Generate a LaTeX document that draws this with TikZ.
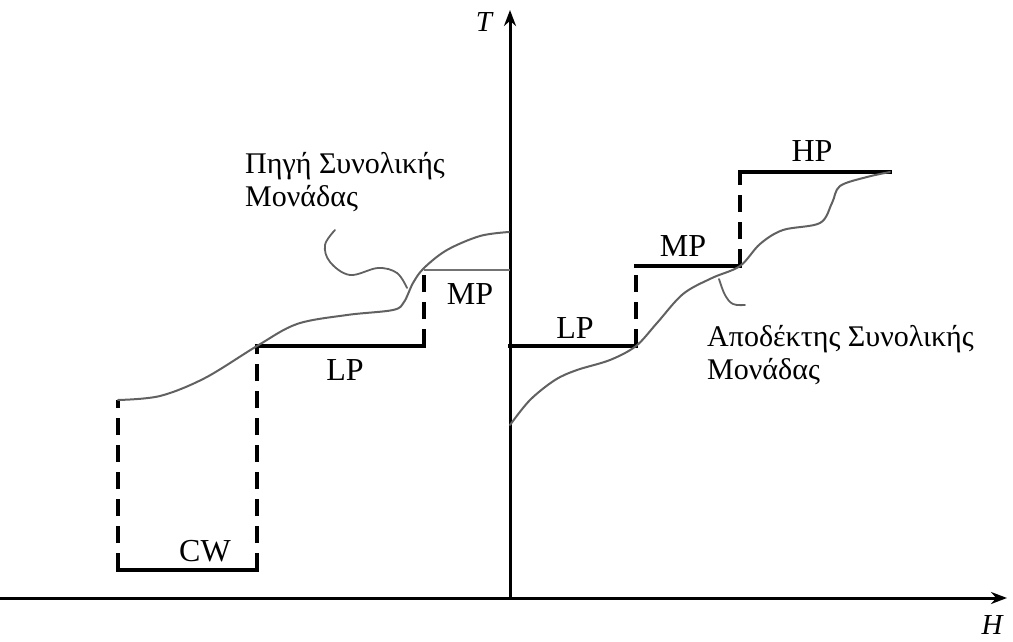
\documentclass[tikz,border=0pt]{standalone}
\usepackage{fontspec}
\setmainfont{Liberation Serif}
\usetikzlibrary{arrows.meta}
\begin{document}
\begin{tikzpicture}[x=1pt,y=-1pt,
  axis/.style={line width=3pt,-{Stealth[length=16pt,width=12pt]}},
  stepline/.style={line width=3.2pt,line cap=rect},
  riser/.style={line width=3.8pt,dash pattern=on 17pt off 10pt},
  profile/.style={line width=2pt,draw=black!62,line cap=round},
  leader/.style={line width=1.8pt,draw=black!62,line cap=round},
  lvl/.style={font=\fontsize{32}{34}\selectfont,inner sep=0pt},
  desc/.style={font=\fontsize{30}{33}\selectfont,inner sep=0pt,align=left,anchor=base west},
  axlabel/.style={font=\fontsize{29}{32}\selectfont\itshape,inner sep=0pt}]
\useasboundingbox (0,0) rectangle (1013,642);

% axes
\coordinate (hl) at (0,598);
\coordinate (hr) at (1007,598);
\coordinate (tb) at (510,598);
\coordinate (tt) at (510,10);
\draw[axis] (hl) -- (hr);
\draw[axis] (tb) -- (tt);
\node[axlabel] (Hlab) at (992,625) {H};
\node[axlabel] (Tlab) at (484,22) {T};

% source side steps
\coordinate (cwA) at (118,570);
\coordinate (cwB) at (257,570);
\coordinate (srcS) at (118,400);
\coordinate (lpA) at (257,346);
\coordinate (lpB) at (424,346);
\coordinate (mpA) at (424,270);
\coordinate (mpB) at (510,270);
\draw[stepline] (cwA) -- (cwB);
\draw[riser] (cwA) -- (srcS);
\draw[riser] (cwB) -- (lpA);
\draw[stepline] (lpA) -- (lpB);
\draw[riser] (lpB) -- (mpA);
\draw[line width=2pt,draw=black!55] (mpA) -- (mpB);

% sink side steps
\coordinate (rlpA) at (510,346);
\coordinate (rlpB) at (636,346);
\coordinate (rmpA) at (636,266);
\coordinate (rmpB) at (740,266);
\coordinate (hpA) at (740,172);
\coordinate (hpB) at (890,172);
\draw[stepline] (rlpA) -- (rlpB);
\draw[riser] (rlpB) -- (rmpA);
\draw[stepline] (rmpA) -- (rmpB);
\draw[riser] (rmpB) -- (hpA);
\draw[stepline] (hpA) -- (hpB);

% grand composite curve, source part
\draw[profile] plot[smooth,tension=0.55] coordinates {
  (118,400) (160,396) (205,378) (257,346) (297,324) (347,315)
  (393,310) (404,302) (413,283) (424,268) (447,250) (480,236) (509,232)};

% grand composite curve, sink part
\draw[profile] plot[smooth,tension=0.55] coordinates {
  (510,425) (530,400) (555,380) (577,370) (610,360) (636,346)
  (657,323) (683,294) (712,278) (740,266) (760,244) (783,230)
  (820,223) (832,203) (840,186) (867,177) (890,172)};

% labels on the steps
\node[lvl] (lCW) at (205,551) {CW};
\node[lvl] (lLP) at (345,370) {LP};
\node[lvl] (lMP) at (470,294) {MP};
\node[lvl] (rLP) at (575,328) {LP};
\node[lvl] (rMP) at (683,246) {MP};
\node[lvl] (rHP) at (812,151) {HP};

% descriptions with leaders (base anchor sits on the last line)
\node[desc] (src) at (245,206) {Πηγή Συνολικής\\Μονάδας};
\node[desc] (snk) at (707,379) {Αποδέκτης Συνολικής\\Μονάδας};
\coordinate (srcL) at (335,230);
\coordinate (snkL) at (745,305);
\draw[leader] plot[smooth,tension=0.6] coordinates {
  (srcL) (325,245) (330,262) (350,275) (378,268) (397,273) (407,288)};
\draw[leader] plot[smooth,tension=0.6] coordinates {
  (719,279) (725,295) (733,304) (snkL)};
\end{tikzpicture}
\end{document}
